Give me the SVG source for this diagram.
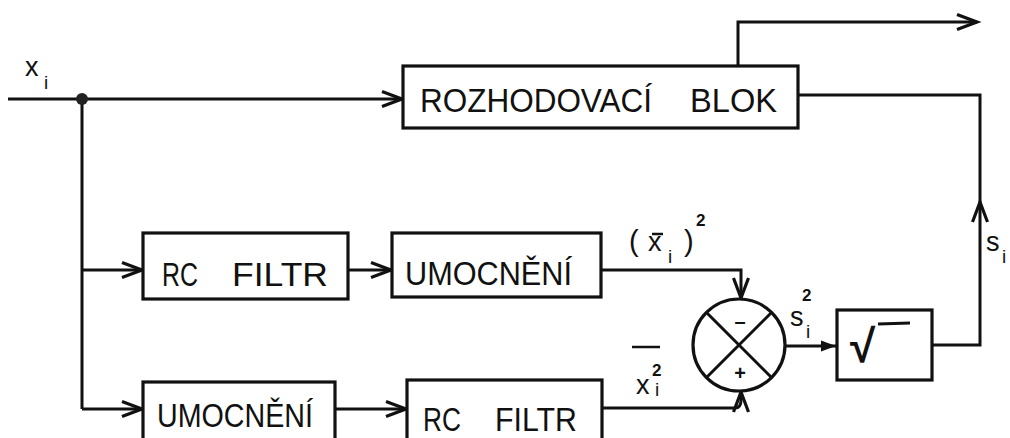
<svg xmlns="http://www.w3.org/2000/svg" width="1010" height="438" viewBox="0 0 1010 438">
<style>
.ln{fill:none;stroke:#111;stroke-width:3;stroke-linejoin:miter}
.box{fill:#fff;stroke:#111;stroke-width:3.2}
.t{font-family:"Liberation Sans",Arial,sans-serif;font-size:33px;fill:#111}
.s{font-family:"Liberation Sans",Arial,sans-serif;fill:#111}
</style>
<defs>
<marker id="arr" markerUnits="userSpaceOnUse" markerWidth="30" markerHeight="24" viewBox="-24 -12 28 24" refX="0" refY="0" orient="auto">
<path d="M-20,-7.5 L0,0 L-20,7.5" fill="none" stroke="#111" stroke-width="3.2"/>
</marker>
<marker id="arrf" markerUnits="userSpaceOnUse" markerWidth="20" markerHeight="16" viewBox="-18 -8 20 16" refX="0" refY="0" orient="auto">
<path d="M-15,-5.5 L0,0 L-15,5.5 Z" fill="#111"/>
</marker>
</defs>
<rect width="1010" height="438" fill="#fff"/>

<g id="connectors">
<path class="ln" d="M8,99 L402,99" marker-end="url(#arr)"/>
<path class="ln" d="M82,99 L82,409"/>
<path class="ln" d="M82,270 L142,270" marker-end="url(#arr)"/>
<path class="ln" d="M82,409 L142,409" marker-end="url(#arr)"/>
<path class="ln" d="M348,270 L391,270" marker-end="url(#arr)"/>
<path class="ln" d="M335,409 L406,409" marker-end="url(#arr)"/>
<path class="ln" d="M601,270 L741,270 L741,298" marker-end="url(#arr)"/>
<path class="ln" d="M602,408 L735,408 Q741,408 741,400 L741,392" marker-end="url(#arr)"/>
<path class="ln" d="M785,346 L836,346" marker-end="url(#arrf)"/>
<path class="ln" d="M932,345 L980,345 L980,202" marker-end="url(#arr)"/>
<path class="ln" d="M980,202 L980,95 L798,95"/>
<path class="ln" d="M738,65 L738,22 L977,22" marker-end="url(#arr)"/>
<circle cx="82" cy="99" r="6" fill="#222"/>
</g>

<g id="input-label">
<text class="s" x="25" y="76" font-size="27">x</text>
<text class="s" x="44" y="89" font-size="19">i</text>
</g>

<g id="rozhodovaci">
<rect class="box" x="403" y="66" width="395" height="62"/>
<text class="t" y="112"><tspan x="420" textLength="232" lengthAdjust="spacingAndGlyphs">ROZHODOVACÍ</tspan><tspan x="690" textLength="87" lengthAdjust="spacingAndGlyphs">BLOK</tspan></text>
</g>

<g id="rcfiltr1">
<rect class="box" x="143" y="233" width="205" height="66"/>
<text class="t" y="286"><tspan x="162" textLength="36" lengthAdjust="spacingAndGlyphs">RC</tspan><tspan x="232" textLength="96" lengthAdjust="spacingAndGlyphs">FILTR</tspan></text>
</g>

<g id="umocneni1">
<rect class="box" x="392" y="233" width="209" height="64"/>
<text class="t" x="405" y="285" textLength="167" lengthAdjust="spacingAndGlyphs">UMOCNĚNÍ</text>
</g>

<g id="umocneni2">
<rect class="box" x="143" y="382" width="192" height="80"/>
<text class="t" x="157" y="427" textLength="156" lengthAdjust="spacingAndGlyphs">UMOCNĚNÍ</text>
</g>

<g id="rcfiltr2">
<rect class="box" x="407" y="380" width="195" height="80"/>
<text class="t" y="431"><tspan x="423" textLength="38" lengthAdjust="spacingAndGlyphs">RC</tspan><tspan x="495" textLength="82" lengthAdjust="spacingAndGlyphs">FILTR</tspan></text>
</g>

<g id="label-mean-squared">
<text class="s" x="629" y="251" font-size="29">(</text>
<text class="s" x="648" y="251" font-size="27">x</text>
<line x1="652" y1="234" x2="663" y2="234" stroke="#111" stroke-width="2.5"/>
<text class="s" x="668" y="263" font-size="19">i</text>
<text class="s" x="684" y="251" font-size="29">)</text>
<text class="s" x="696" y="226" font-size="17" font-weight="bold">2</text>
</g>

<g id="label-squared-mean">
<line x1="632" y1="347" x2="660" y2="347" stroke="#111" stroke-width="2.5"/>
<text class="s" x="652" y="376" font-size="17" font-weight="bold">2</text>
<text class="s" x="636" y="394" font-size="27">x</text>
<text class="s" x="655" y="396" font-size="19">i</text>
</g>

<g id="summer">
<circle cx="739" cy="345" r="46" fill="#fff" stroke="#111" stroke-width="3.2"/>
<path class="ln" d="M706.5,312.5 L771.5,377.5 M771.5,312.5 L706.5,377.5" stroke-width="2.6"/>
<text class="s" x="740" y="328" font-size="20" font-weight="bold" text-anchor="middle">–</text>
<text class="s" x="740" y="380" font-size="20" font-weight="bold" text-anchor="middle">+</text>
</g>

<g id="label-variance">
<text class="s" x="802" y="301" font-size="17" font-weight="bold">2</text>
<text class="s" x="790" y="326" font-size="27">s</text>
<text class="s" x="806" y="338" font-size="19">i</text>
</g>

<g id="sqrt">
<rect class="box" x="837" y="310" width="95" height="70"/>
<text class="s" x="850" y="362" font-size="46" font-weight="bold" font-family="DejaVu Sans, sans-serif">√</text>
<line x1="878" y1="324" x2="910" y2="323" stroke="#111" stroke-width="3"/>
</g>

<g id="label-sigma">
<text class="s" x="986" y="251" font-size="27">s</text>
<text class="s" x="1002" y="263" font-size="19">i</text>
</g>
</svg>
